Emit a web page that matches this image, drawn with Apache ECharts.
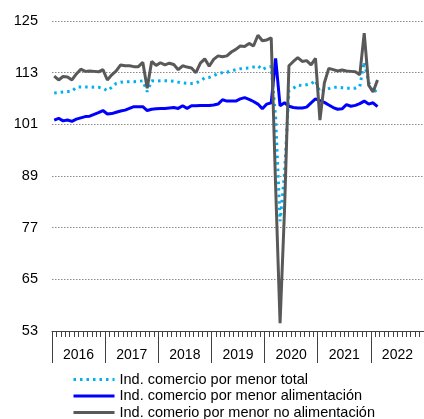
<!DOCTYPE html>
<html>
<head>
<meta charset="utf-8">
<script src="https://cdn.jsdelivr.net/npm/echarts@6/dist/echarts.min.js"></script>
<style>
html,body{margin:0;padding:0;background:#fff;}
#chart{width:424px;height:419px;}
</style>
</head>
<body>
<div id="chart"></div>
<script>
// Years shown on the axis
const years = ['2016','2017','2018','2019','2020','2021','2022'];
// y-axis range / ticks
const yMin = 53, yMax = 125, yStep = 12;

// Series (monthly, Jan 2016 - Feb 2022)
const total = [108.3,108.4,108.5,108.6,108.7,109.6,109.7,109.7,109.7,109.6,109.6,109.4,
  108.8,109.6,110.5,110.8,110.9,110.9,110.9,111.0,111.1,108.6,111.1,111.0,
  111.1,111.1,111.1,111.0,110.8,110.6,110.5,110.5,110.6,111.1,111.8,111.9,
  112.3,112.8,113.0,113.1,113.4,113.7,113.9,114.0,114.1,114.3,114.6,113.7,
  114.3,114.4,102.5,78.5,89.5,108.8,109.4,110.1,110.0,110.2,110.4,111.2,
  108.5,108.9,109.3,109.6,109.6,109.5,109.4,109.4,109.4,109.8,115.5,110.8,
  108.4,109.1];
const alimentacion = [102.0,102.4,101.8,102.0,101.7,102.2,102.5,102.8,102.9,103.3,103.7,104.2,
  103.4,103.5,103.8,104.1,104.3,104.7,105.1,105.1,105.1,104.2,104.5,104.6,
  104.7,104.7,104.8,104.9,104.7,105.3,104.7,105.3,105.3,105.4,105.4,105.4,
  105.5,105.7,106.7,106.4,106.4,106.4,106.9,107.2,106.8,106.3,105.7,104.6,
  105.7,106.0,116.3,105.3,106.0,105.2,104.9,104.8,104.8,105.0,106.0,106.9,
  106.5,106.1,105.5,104.9,104.5,104.6,105.6,105.2,105.4,105.8,106.4,105.7,
  106.0,105.1];
const noAlimentacion = [112.2,111.3,112.1,112.0,111.3,112.7,113.8,113.3,113.4,113.3,113.2,113.7,
  111.3,112.5,113.4,114.8,114.6,114.6,114.4,114.4,115.4,109.4,115.6,114.7,
  115.3,114.8,115.2,114.9,113.7,114.6,114.3,114.1,113.0,115.2,116.2,114.5,
  116.1,116.9,116.7,116.9,117.8,118.4,119.2,119.1,119.8,119.2,121.7,120.4,
  120.6,121.1,86.5,54.8,81.0,114.6,115.6,116.5,115.6,115.8,114.8,116.3,
  102.0,110.6,114.0,113.7,113.4,113.6,113.4,113.3,113.2,112.5,122.2,110.1,
  108.5,111.3];

const names = ['Ind. comercio por menor total','Ind. comercio por menor alimentación','Ind. comerio por menor no alimentación'];

// monthly categories built from years
const months = [];
years.forEach(y => { for (let m = 1; m <= 12; m++) months.push(y + '-' + (m < 10 ? '0' + m : m)); });

const font = 'Arial, "Liberation Sans", sans-serif';
const chart = echarts.init(document.getElementById('chart'), null, {renderer:'canvas'});
chart.setOption({
  animation: false,
  backgroundColor: '#fff',
  grid: { left: 52, right: -2, top: 21, bottom: 88, containLabel: false },
  legend: {
    data: names,
    orient: 'vertical',
    left: 72, top: 372, height: 120,
    padding: 0,
    itemWidth: 41, itemHeight: 14, itemGap: 1.5,
    itemStyle: { opacity: 0 },
    lineStyle: { width: 3 },
    textStyle: { fontFamily: font, fontSize: 14.5, color: '#000' }
  },
  xAxis: [
    {
      type: 'category', data: months, boundaryGap: true, position: 'bottom',
      axisLine: { show: true, lineStyle: { color: '#404040', width: 1 } },
      axisTick: { show: true, interval: 0, length: 6, lineStyle: { color: '#404040', width: 1 } },
      axisLabel: { show: false }, splitLine: { show: false }
    },
    {
      type: 'category', data: years, boundaryGap: true, position: 'bottom',
      axisLine: { show: false },
      axisTick: { show: true, interval: 0, length: 32, lineStyle: { color: '#404040', width: 1 } },
      axisLabel: { show: true, interval: 0, margin: 17, fontFamily: font, fontSize: 14, color: '#000' },
      splitLine: { show: false }
    }
  ],
  yAxis: {
    type: 'value', min: yMin, max: yMax, interval: yStep,
    axisLine: { show: false }, axisTick: { show: false },
    axisLabel: { margin: 14, fontFamily: font, fontSize: 14.5, color: '#000' },
    splitLine: { show: true, lineStyle: { color: '#8a8a8a', width: 1, type: [1.5, 1.5] } }
  },
  series: [
    { name: names[0], type: 'line', data: total, symbol: 'none', xAxisIndex: 0,
      lineStyle: { color: '#00B0F0', width: 3, type: [2.5, 4] }, itemStyle: { color: '#00B0F0' } },
    { name: names[1], type: 'line', data: alimentacion, symbol: 'none', xAxisIndex: 0,
      lineStyle: { color: '#0000FF', width: 3 }, itemStyle: { color: '#0000FF' } },
    { name: names[2], type: 'line', data: noAlimentacion, symbol: 'none', xAxisIndex: 0,
      lineStyle: { color: '#595959', width: 3 }, itemStyle: { color: '#595959' } }
  ]
});
</script>
</body>
</html>
